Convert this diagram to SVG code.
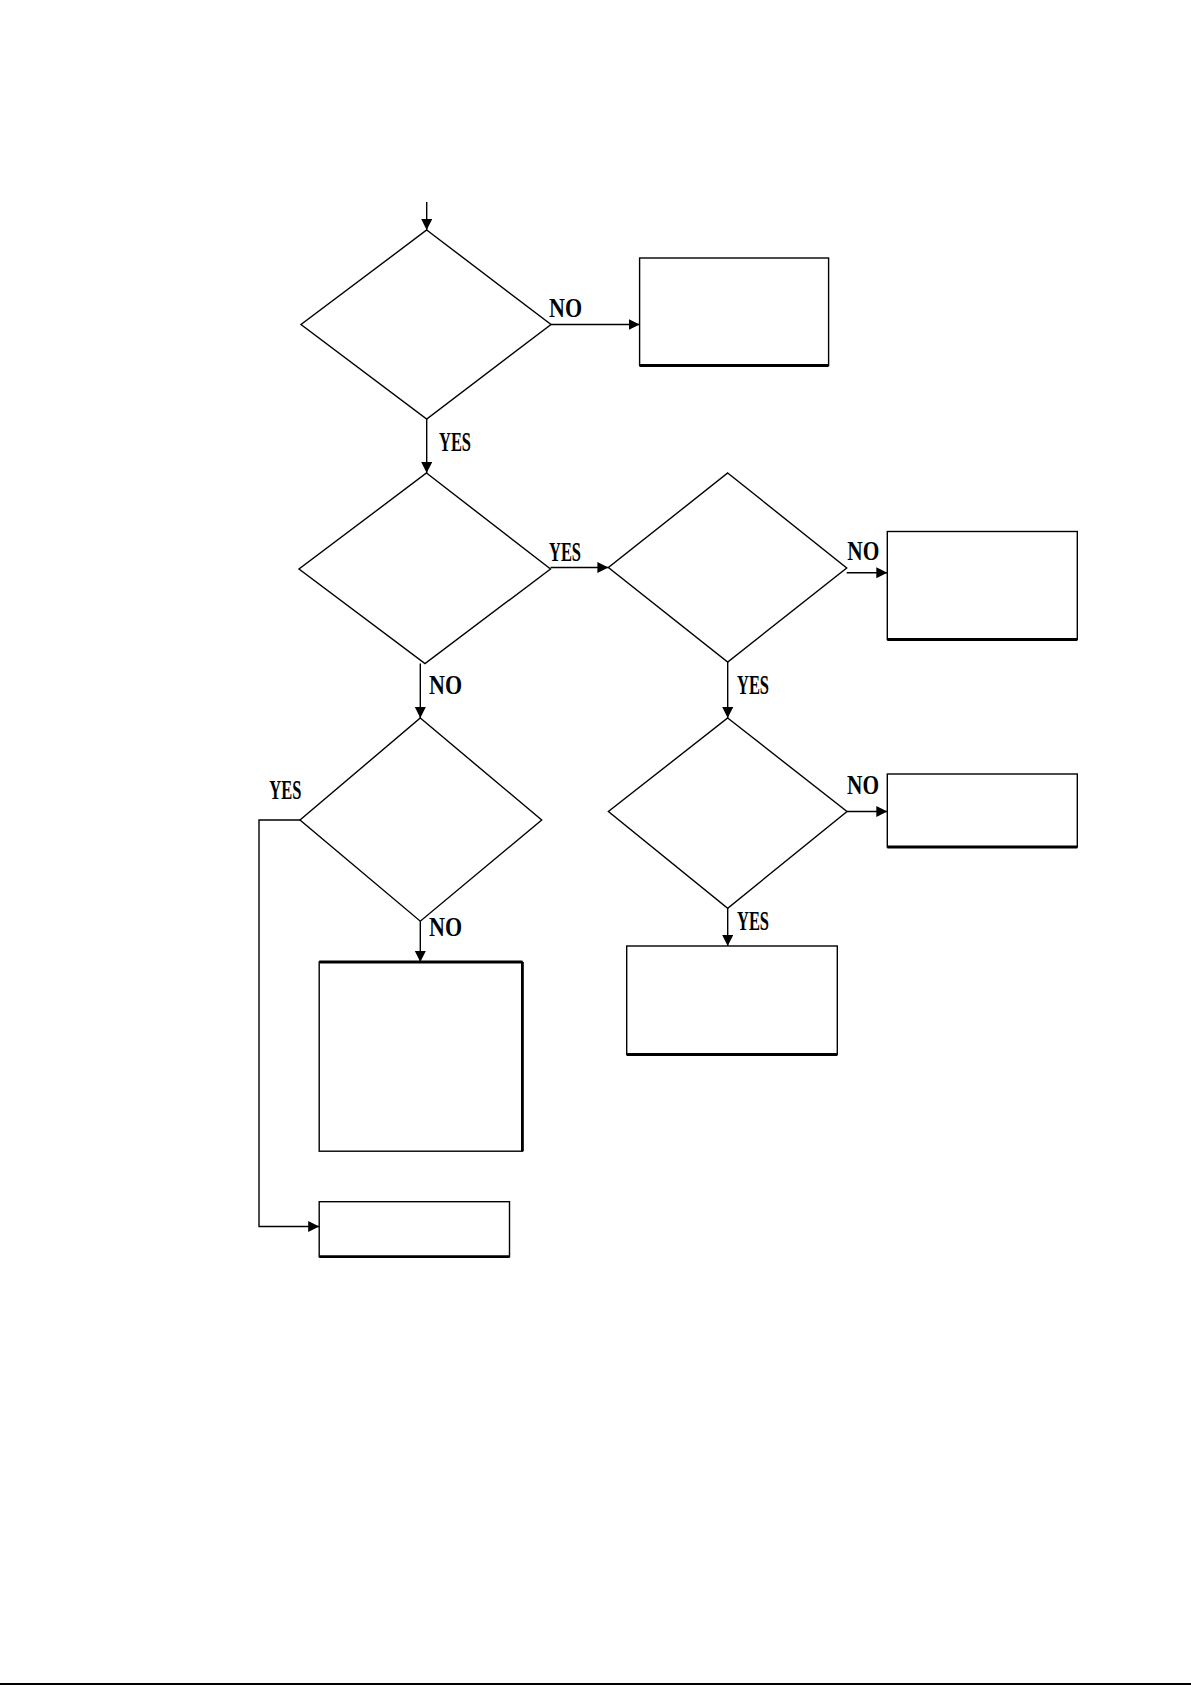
<svg xmlns="http://www.w3.org/2000/svg" width="1191" height="1685" viewBox="0 0 1191 1685">
<style>
.shape{fill:#fff;stroke:#000;stroke-width:1.4}
.btm{stroke:#000;stroke-width:2.8}
.conn{fill:none;stroke:#000;stroke-width:1.4}
.lbl{font-family:"Liberation Serif","Times New Roman",serif;font-size:28px;font-weight:bold;fill:#000}
</style>
<defs>
<marker id="arr" markerUnits="userSpaceOnUse" markerWidth="12" markerHeight="12" refX="11" refY="5.5" orient="auto">
<path d="M0,0 L11,5.5 L0,11 z" fill="#000"/>
</marker>
</defs>
<rect width="1191" height="1685" fill="#fff"/>

<g id="d1"><polygon class="shape" points="426.7,230 551,324.5 426.7,419 301,324.5"/></g>
<g id="b1"><rect class="shape" x="639.6" y="258" width="189" height="107.5"/><line class="btm" x1="639.6" y1="365.5" x2="828.6" y2="365.5"/></g>
<g id="d2"><polygon class="shape" points="426.5,473 550.5,569 425,663.5 299,569"/></g>
<g id="d3"><polygon class="shape" points="727.7,473 846.7,568 727.7,662 608.4,567.5"/></g>
<g id="b2"><rect class="shape" x="887.3" y="531.5" width="190" height="108"/><line class="btm" x1="887.3" y1="639.5" x2="1077.3" y2="639.5"/></g>
<g id="d4"><polygon class="shape" points="727.7,718 847,811.5 727.7,908.3 608.4,811.5"/></g>
<g id="b3"><rect class="shape" x="887.3" y="774" width="190" height="73"/><line class="btm" x1="887.3" y1="847" x2="1077.3" y2="847"/></g>
<g id="b4"><rect class="shape" x="626.7" y="946" width="210.6" height="108.5"/><line class="btm" x1="626.7" y1="1054.5" x2="837.3" y2="1054.5"/></g>
<g id="d5"><polygon class="shape" points="420.3,718 541.7,820 420.3,921.2 300,820"/></g>
<g id="b5"><rect class="shape" x="319.2" y="962" width="203.2" height="189.2"/><line class="btm" x1="522.4" y1="962" x2="522.4" y2="1151.2"/><line class="btm" x1="319.2" y1="962" x2="522.4" y2="962"/></g>
<g id="b6"><rect class="shape" x="319.2" y="1201.7" width="190.3" height="55"/><line class="btm" x1="319.2" y1="1256.7" x2="509.5" y2="1256.7"/></g>

<g id="connectors">
<line class="conn" x1="426.7" y1="202" x2="426.7" y2="230" marker-end="url(#arr)"/>
<line class="conn" x1="551" y1="324.5" x2="639.6" y2="324.5" marker-end="url(#arr)"/>
<line class="conn" x1="426.7" y1="419" x2="426.7" y2="473" marker-end="url(#arr)"/>
<line class="conn" x1="550.5" y1="567.5" x2="608.4" y2="567.5" marker-end="url(#arr)"/>
<line class="conn" x1="846.7" y1="572.7" x2="887.3" y2="572.7" marker-end="url(#arr)"/>
<line class="conn" x1="727.7" y1="662" x2="727.7" y2="718" marker-end="url(#arr)"/>
<line class="conn" x1="847" y1="811.5" x2="887.3" y2="811.5" marker-end="url(#arr)"/>
<line class="conn" x1="727.7" y1="908.3" x2="727.7" y2="946" marker-end="url(#arr)"/>
<line class="conn" x1="420.3" y1="663.5" x2="420.3" y2="718" marker-end="url(#arr)"/>
<line class="conn" x1="420.3" y1="921.2" x2="420.3" y2="962" marker-end="url(#arr)"/>
<polyline class="conn" points="300,820 259,820 259,1226.5 319.2,1226.5" marker-end="url(#arr)"/>

<text class="lbl" x="549" y="317" textLength="33" lengthAdjust="spacingAndGlyphs">NO</text>
<text class="lbl" x="439" y="451" textLength="32" lengthAdjust="spacingAndGlyphs">YES</text>
<text class="lbl" x="549" y="561" textLength="32" lengthAdjust="spacingAndGlyphs">YES</text>
<text class="lbl" x="847.3" y="560" textLength="32" lengthAdjust="spacingAndGlyphs">NO</text>
<text class="lbl" x="737" y="694" textLength="32" lengthAdjust="spacingAndGlyphs">YES</text>
<text class="lbl" x="847" y="793.5" textLength="32" lengthAdjust="spacingAndGlyphs">NO</text>
<text class="lbl" x="737" y="930" textLength="32" lengthAdjust="spacingAndGlyphs">YES</text>
<text class="lbl" x="429" y="694" textLength="33" lengthAdjust="spacingAndGlyphs">NO</text>
<text class="lbl" x="429" y="935.5" textLength="33" lengthAdjust="spacingAndGlyphs">NO</text>
<text class="lbl" x="269.3" y="799.3" textLength="32" lengthAdjust="spacingAndGlyphs">YES</text>
</g>

<line x1="0" y1="1684" x2="1191" y2="1684" stroke="#000" stroke-width="2"/>
</svg>
